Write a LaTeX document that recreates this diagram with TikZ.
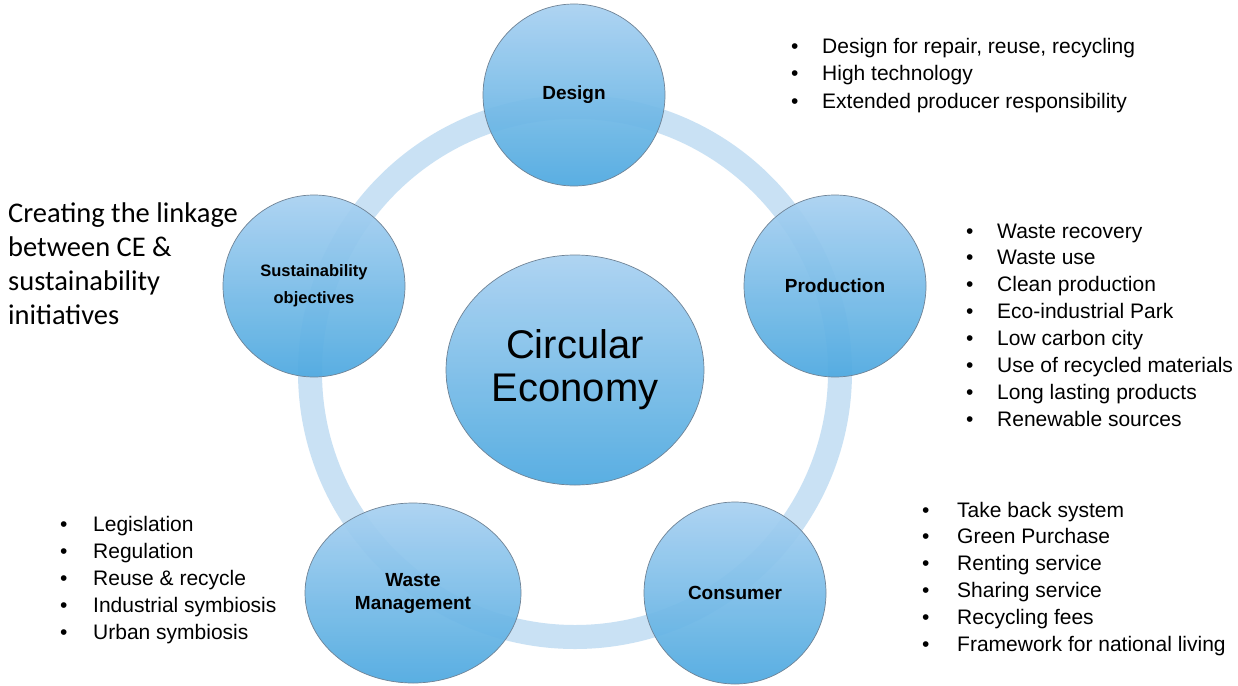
\documentclass[tikz,border=0pt]{standalone}
\usepackage{fontspec}
\setmainfont{Liberation Sans}
\newfontfamily\calib{Carlito}
\usetikzlibrary{shapes.geometric}
\definecolor{ringcol}{HTML}{C4DEF3}
\definecolor{ctop}{HTML}{A9D1F1}
\definecolor{cbot}{HTML}{4DA9E0}
\definecolor{cedge}{HTML}{6F8396}
\newcommand\blt[2][31pt]{\makebox[#1][l]{•}#2}
\begin{document}
\begin{tikzpicture}[x=1pt,y=-1pt,
  ballbase/.style={inner sep=0pt, shade, top color=ctop, bottom color=cbot,
    draw=cedge, line width=0.7pt, fill opacity=0.93, text opacity=1, align=center},
  ball/.style={ballbase, circle, minimum size=182pt,
    font=\fontsize{19}{23}\selectfont\bfseries},
  bul/.style={anchor=base west, inner sep=0pt, font=\fontsize{21}{24}\selectfont},
  lefttext/.style={anchor=base west, inner sep=0pt, font=\calib\fontsize{28.5}{34}\selectfont}
]
\fill[white] (0,0) rectangle (1238,685);
\useasboundingbox (0,0) rectangle (1238,685);

% ring
\coordinate (rc) at (575,372);
\draw[ringcol, line width=24pt, opacity=0.9] (rc) circle[radius=265];

% circles
\node[ballbase, ellipse, minimum width=258pt, minimum height=230pt, font=\fontsize{40}{43}\selectfont] (ce) at (575,370) {Circular\\Economy};
\node[ball] (design) at (574,95) {Design};
\node[ball] (prod) at (835,286) {Production};
\node[ball] (cons) at (735,593) {Consumer};
\node[ballbase, ellipse, minimum width=216pt, minimum height=180pt,
  font=\fontsize{19}{23}\selectfont\bfseries] (waste) at (413,593) {Waste\\Management};
\node[ball, font=\fontsize{16.5}{27}\selectfont\bfseries] (sust) at (314,286) {Sustainability\\objectives};

% left text
\foreach \t [count=\i] in {Creating the linkage, between CE \&, sustainability, initiatives}
  \node[lefttext] (lt\i) at (8,{222+34*(\i-1)}) {\t};

% design list
\foreach \t [count=\i] in {{Design for repair, reuse, recycling}, High technology, Extended producer responsibility}
  \node[bul] (dl\i) at (791,{54+27*(\i-1)}) {\blt{\t}};

% production list
\foreach \t [count=\i] in {Waste recovery, Waste use, Clean production, Eco-industrial Park, Low carbon city, Use of recycled materials, Long lasting products, Renewable sources}
  \node[bul] (pl\i) at (966,{238+26.9*(\i-1)}) {\blt{\t}};

% consumer list
\foreach \t [count=\i] in {Take back system, Green Purchase, Renting service, Sharing service, Recycling fees, Framework for national living}
  \node[bul] (cl\i) at (922,{517+26.8*(\i-1)}) {\blt[35pt]{\t}};

% waste list
\foreach \t [count=\i] in {Legislation, Regulation, Reuse \& recycle, Industrial symbiosis, Urban symbiosis}
  \node[bul] (wl\i) at (60,{531+27*(\i-1)}) {\blt[33pt]{\t}};
\end{tikzpicture}
\end{document}
